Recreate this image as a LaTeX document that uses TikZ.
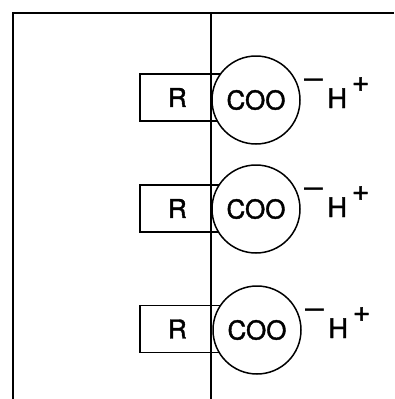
\documentclass[tikz,border=0pt]{standalone}
\usepackage{fontspec}
\setmainfont{TeX Gyre Heros}
\newfontfamily\letterfont[FakeBold=1.5]{TeX Gyre Heros}
\usetikzlibrary{positioning}

\begin{document}
\begin{tikzpicture}[x=1pt,y=-1pt,line width=1.5pt,
  bigfont/.style={font=\letterfont\fontsize{26}{28}\selectfont},
  rgroup/.style={draw,rectangle,bigfont,inner ysep=0pt,inner xsep=28pt,text width=29pt,align=left,minimum height=47pt},
  headgroup/.style={draw,circle,fill=white,bigfont,inner sep=0pt,minimum size=88pt},
  ion/.style={anchor=base west,inner sep=0pt,bigfont}]
\useasboundingbox (0,0) rectangle (394,399);
\newcommand{\protonpair}{\raisebox{18.6pt}{\rmfamily\fontsize{34}{34}\selectfont\textendash}\hspace{4pt}{\fontsize{27}{28}\selectfont H}\hspace{5pt}\raisebox{16.5pt}{\fontsize{30}{30}\selectfont +}}
% frame
\coordinate (tl) at (13,13);
\coordinate (tr) at (394,13);
\coordinate (bl) at (13,399);
\coordinate (mt) at (211,13);
\coordinate (mb) at (211,399);
\draw (tr)--(tl)--(bl);
% first acid
\node[rgroup] (r1) at (182.5,97.5) {R};
\node[headgroup] (c1) at (256,100) {COO};
\node[ion] (h1) at ([xshift=3pt,yshift=-8pt]c1.east) {\protonpair};
% second acid
\node[rgroup] (r2) at (182.5,208.5) {R};
\node[headgroup] (c2) at (256,209) {COO};
\node[ion] (h2) at ([xshift=3pt,yshift=-8pt]c2.east) {\protonpair};
% third acid
\node[rgroup] (r3) at (182.5,329) {R};
\node[headgroup] (c3) at (257,330) {COO};
\node[ion] (h3) at ([xshift=3pt,yshift=-8pt]c3.east) {\protonpair};
% membrane
\draw (mt)--(mb);
\end{tikzpicture}
\end{document}
